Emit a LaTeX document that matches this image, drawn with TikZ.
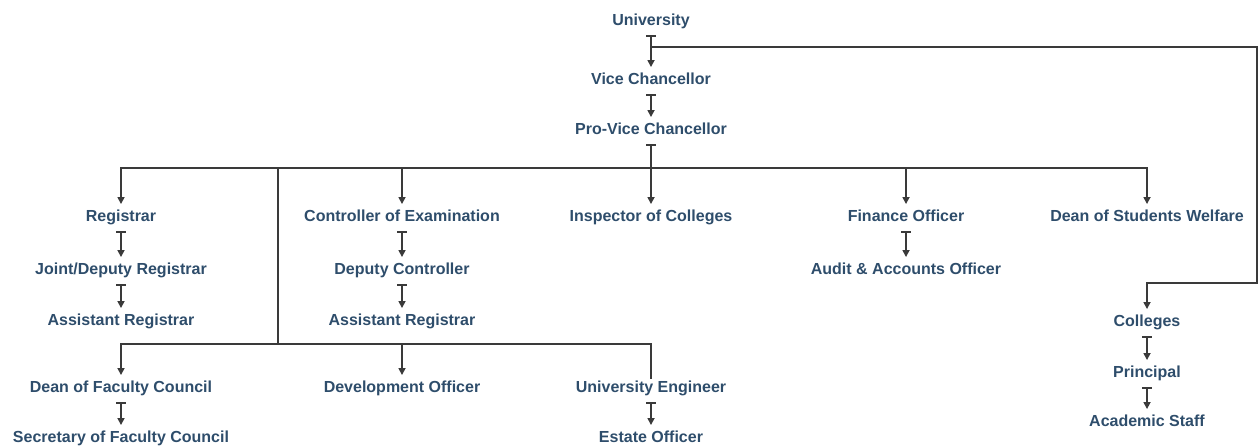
\documentclass[tikz,border=0pt]{standalone}
\usepackage{fontspec}
\setmainfont{Liberation Sans}
\usetikzlibrary{arrows.meta}
\definecolor{txt}{HTML}{2E4D6B}
\definecolor{ln}{HTML}{3A3A3A}
\tikzset{
  lbl/.style={text=txt, font=\fontsize{16}{19}\selectfont\bfseries, inner sep=0pt, text height=11.5pt, text depth=0pt},
  conn/.style={draw=ln, line width=1.6pt},
  arr/.style={conn, -{Triangle[width=7pt,length=7pt]}, shorten >=6pt},
  stub/.style={conn, {Bar[width=10pt,line width=1.6pt]}-{Triangle[width=7pt,length=7pt]}, shorten <=9pt, shorten >=6pt},
}
\begin{document}
\begin{tikzpicture}[x=1pt,y=-1pt]
\useasboundingbox (0,0) rectangle (1258,447);
% nodes
\node[lbl] (univ) at (651,20) {University};
\node[lbl] (vc) at (651,79) {Vice Chancellor};
\node[lbl] (pvc) at (651,129) {Pro-Vice Chancellor};
\node[lbl] (reg) at (121,216) {Registrar};
\node[lbl] (jdr) at (121,269) {Joint/Deputy Registrar};
\node[lbl] (ar1) at (121,320) {Assistant Registrar};
\node[lbl] (coe) at (402,216) {Controller of Examination};
\node[lbl] (dc) at (402,269) {Deputy Controller};
\node[lbl] (ar2) at (402,320) {Assistant Registrar};
\node[lbl] (ioc) at (651,216) {Inspector of Colleges};
\node[lbl] (fo) at (906,216) {Finance Officer};
\node[lbl] (aao) at (906,269) {Audit \& Accounts Officer};
\node[lbl] (dsw) at (1147,216) {Dean of Students Welfare};
\node[lbl] (col) at (1147,321) {Colleges};
\node[lbl] (pri) at (1147,372) {Principal};
\node[lbl] (acs) at (1147,421) {Academic Staff};
\node[lbl] (dfc) at (121,387) {Dean of Faculty Council};
\node[lbl] (sfc) at (121,437) {Secretary of Faculty Council};
\node[lbl] (dvo) at (402,387) {Development Officer};
\node[lbl] (ue) at (651,387) {University Engineer};
\node[lbl] (eo) at (651,437) {Estate Officer};
% junctions
\coordinate (ub) at (651,47);
\coordinate (ur) at (1257,283);
\coordinate (bus) at (651,168);
\coordinate (busL) at (278,168);
\coordinate (busB) at (278,344);
% top chain
\draw[stub] (univ.south) -- (vc.north);
\draw[arr] (ub) -| (ur) -| (col.north);
\draw[stub] (vc.south) -- (pvc.north);
\draw[stub] (pvc.south) -- (ioc.north);
% bus
\draw[arr] (bus) -| (reg.north);
\draw[arr] (bus) -| (coe.north);
\draw[arr] (bus) -| (fo.north);
\draw[arr] (bus) -| (dsw.north);
\draw[conn] (busL) -- (busB);
\draw[arr] (busB) -| (dfc.north);
\draw[arr] (busB) -| (dvo.north);
\draw[conn, shorten >=2pt] (busB) -| (ue.north);
% chains
\draw[stub] (reg.south) -- (jdr.north);
\draw[stub] (jdr.south) -- (ar1.north);
\draw[stub] (coe.south) -- (dc.north);
\draw[stub] (dc.south) -- (ar2.north);
\draw[stub] (fo.south) -- (aao.north);
\draw[stub] (col.south) -- (pri.north);
\draw[stub] (pri.south) -- (acs.north);
\draw[stub] (dfc.south) -- (sfc.north);
\draw[stub] (ue.south) -- (eo.north);
\end{tikzpicture}
\end{document}
